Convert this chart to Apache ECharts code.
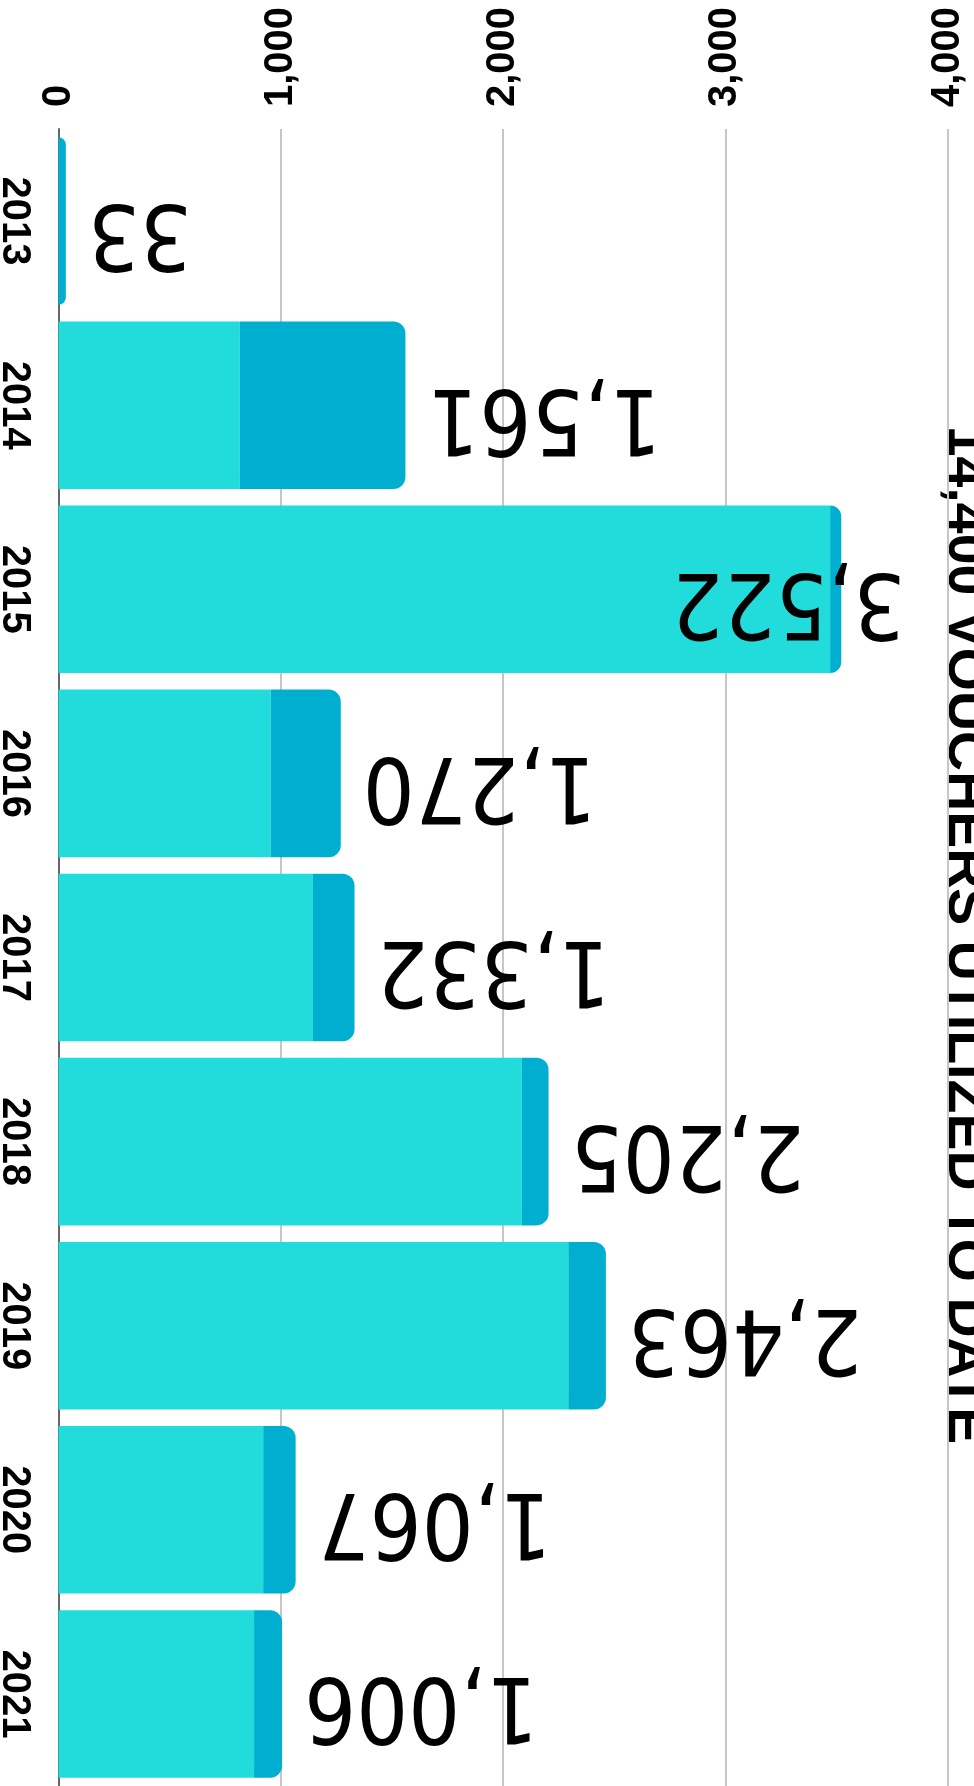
<!DOCTYPE html>
<html>
<head>
<meta charset="utf-8">
<script src="https://cdn.jsdelivr.net/npm/echarts@6.0.0/dist/echarts.min.js"></script>
<style>
  html, body { margin: 0; padding: 0; background: #fff; }
  #main { width: 974px; height: 1786px; }
</style>
</head>
<body>
<div id="main"></div>
<script>
var years = ["2013", "2014", "2015", "2016", "2017", "2018", "2019", "2020", "2021"];
var lightValues = [0, 816, 3472, 955, 1145, 2085, 2294, 921, 880];
var darkValues = [33, 745, 50, 315, 187, 120, 169, 146, 126];
var totals = [33, 1561, 3522, 1270, 1332, 2205, 2463, 1067, 1006];
var valueTicks = [0, 1000, 2000, 3000, 4000];
var titleText = "14,400 VOUCHERS UTILIZED TO DATE";

var boldFont = "Liberation Sans";
var numFont = "'DejaVu Sans Condensed', 'DejaVu Sans'";

var fmt = v => Number(v).toLocaleString("en-US");

// the biggest bar has no room for its label, so it is pulled back over the bar
var maxIdx = totals.indexOf(Math.max.apply(null, totals));

var myChart = echarts.init(document.getElementById("main"));
var option = {
  animation: false,
  grid: {
    left: 58.5,
    right: 26.5,
    top: 129,
    bottom: 0,
    containLabel: false,
    outerBoundsMode: "none"
  },
  xAxis: {
    type: "value",
    position: "top",
    min: valueTicks[0],
    max: valueTicks[valueTicks.length - 1],
    interval: valueTicks[1] - valueTicks[0],
    axisLine: { show: false },
    axisTick: { show: false },
    axisLabel: {
      rotate: -90,
      margin: 22,
      color: "#000",
      fontFamily: boldFont,
      fontWeight: "bold",
      fontSize: 40,
      formatter: v => fmt(v)
    },
    splitLine: { lineStyle: { color: "#c6c6c6", width: 2 } }
  },
  yAxis: {
    type: "category",
    inverse: true,
    data: years,
    axisTick: { show: false },
    axisLine: { lineStyle: { color: "#666", width: 2 } },
    axisLabel: {
      rotate: -90,
      margin: 24,
      color: "#000",
      fontFamily: boldFont,
      fontWeight: "bold",
      fontSize: 40
    }
  },
  graphic: [
    {
      type: "text",
      x: 964,
      y: 935,
      rotation: -Math.PI / 2,
      style: {
        text: titleText,
        fill: "#000",
        font: "bold 55.5px 'Liberation Sans'",
        align: "center",
        verticalAlign: "middle"
      }
    }
  ],
  series: [
    {
      name: "light",
      type: "bar",
      stack: "total",
      barCategoryGap: "9%",
      itemStyle: { color: "#22dcdc" },
      data: lightValues
    },
    {
      name: "dark",
      type: "bar",
      stack: "total",
      barCategoryGap: "9%",
      itemStyle: { color: "#00afcf", borderRadius: [0, 12, 12, 0] },
      label: {
        show: true,
        position: "right",
        distance: 22,
        rotate: 180,
        align: "right",
        verticalAlign: "middle",
        offset: [0, -8],
        color: "#000",
        fontFamily: numFont,
        fontSize: 91,
        formatter: p => fmt(totals[p.dataIndex])
      },
      data: darkValues.map((v, i) =>
        i === maxIdx ? { value: v, label: { offset: [192, -8] } } : v
      )
    }
  ]
};
myChart.setOption(option);
</script>
</body>
</html>
